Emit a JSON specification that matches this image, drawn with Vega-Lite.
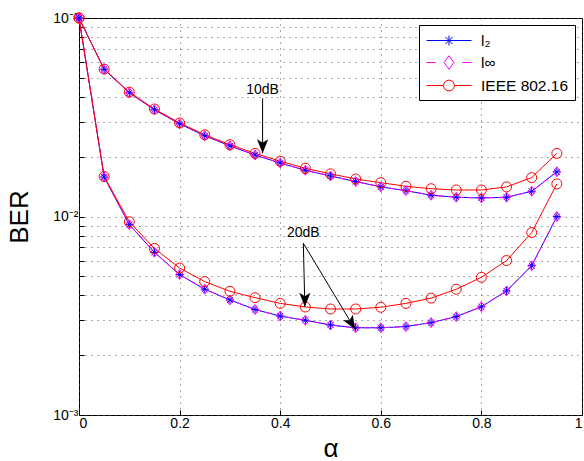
{
  "$schema": "https://vega.github.io/schema/vega-lite/v6.json",
  "width": 503,
  "height": 397,
  "autosize": {"type": "none"},
  "padding": {"left": 79, "top": 18, "right": 2, "bottom": 46},
  "config": {
    "font": "Liberation Sans",
    "view": {"stroke": "black", "strokeWidth": 1},
    "axis": {
      "labelFont": "Liberation Sans",
      "labelFontSize": 14,
      "labelColor": "black",
      "titleFont": "Liberation Sans",
      "titleColor": "black",
      "titleFontWeight": "normal",
      "grid": true,
      "gridColor": "#555",
      "gridDash": [1, 5],
      "gridWidth": 1,
      "domain": false,
      "tickColor": "black",
      "tickSize": -5
    }
  },
  "datasets": {
    "curves": [
      {"alpha": 0, "snr": "10dB", "l2": 0.1, "linf": 0.1, "ieee": 0.1},
      {"alpha": 0.05, "snr": "10dB", "l2": 0.0551, "linf": 0.0551, "ieee": 0.0553},
      {"alpha": 0.1, "snr": "10dB", "l2": 0.042, "linf": 0.042, "ieee": 0.0423},
      {"alpha": 0.15, "snr": "10dB", "l2": 0.0345, "linf": 0.0345, "ieee": 0.0348},
      {"alpha": 0.2, "snr": "10dB", "l2": 0.0293, "linf": 0.0293, "ieee": 0.0296},
      {"alpha": 0.25, "snr": "10dB", "l2": 0.0255, "linf": 0.0255, "ieee": 0.0258},
      {"alpha": 0.3, "snr": "10dB", "l2": 0.0227, "linf": 0.0227, "ieee": 0.023},
      {"alpha": 0.35, "snr": "10dB", "l2": 0.0204, "linf": 0.0204, "ieee": 0.0208},
      {"alpha": 0.4, "snr": "10dB", "l2": 0.0186, "linf": 0.0186, "ieee": 0.019},
      {"alpha": 0.45, "snr": "10dB", "l2": 0.0171, "linf": 0.0171, "ieee": 0.0175},
      {"alpha": 0.5, "snr": "10dB", "l2": 0.016, "linf": 0.016, "ieee": 0.0164},
      {"alpha": 0.55, "snr": "10dB", "l2": 0.015, "linf": 0.015, "ieee": 0.01545},
      {"alpha": 0.6, "snr": "10dB", "l2": 0.0141, "linf": 0.0141, "ieee": 0.0148},
      {"alpha": 0.65, "snr": "10dB", "l2": 0.0135, "linf": 0.0135, "ieee": 0.0142},
      {"alpha": 0.7, "snr": "10dB", "l2": 0.0128, "linf": 0.0128, "ieee": 0.0138},
      {"alpha": 0.75, "snr": "10dB", "l2": 0.0125, "linf": 0.0125, "ieee": 0.0136},
      {"alpha": 0.8, "snr": "10dB", "l2": 0.0124, "linf": 0.0124, "ieee": 0.0136},
      {"alpha": 0.85, "snr": "10dB", "l2": 0.0125, "linf": 0.0125, "ieee": 0.0141},
      {"alpha": 0.9, "snr": "10dB", "l2": 0.0134, "linf": 0.0134, "ieee": 0.0157},
      {"alpha": 0.95, "snr": "10dB", "l2": 0.0168, "linf": 0.0168, "ieee": 0.0208},
      {"alpha": 0, "snr": "20dB", "l2": 0.1, "linf": 0.1, "ieee": 0.1},
      {"alpha": 0.05, "snr": "20dB", "l2": 0.0158, "linf": 0.0158, "ieee": 0.0159},
      {"alpha": 0.1, "snr": "20dB", "l2": 0.0091, "linf": 0.0091, "ieee": 0.0094},
      {"alpha": 0.15, "snr": "20dB", "l2": 0.0066, "linf": 0.0066, "ieee": 0.0069},
      {"alpha": 0.2, "snr": "20dB", "l2": 0.0051, "linf": 0.0051, "ieee": 0.0055},
      {"alpha": 0.25, "snr": "20dB", "l2": 0.0043, "linf": 0.0043, "ieee": 0.0047},
      {"alpha": 0.3, "snr": "20dB", "l2": 0.0038, "linf": 0.0038, "ieee": 0.0042},
      {"alpha": 0.35, "snr": "20dB", "l2": 0.0034, "linf": 0.0034, "ieee": 0.0039},
      {"alpha": 0.4, "snr": "20dB", "l2": 0.00315, "linf": 0.00315, "ieee": 0.00365},
      {"alpha": 0.45, "snr": "20dB", "l2": 0.003, "linf": 0.003, "ieee": 0.0035},
      {"alpha": 0.5, "snr": "20dB", "l2": 0.00284, "linf": 0.00284, "ieee": 0.00342},
      {"alpha": 0.55, "snr": "20dB", "l2": 0.00275, "linf": 0.00275, "ieee": 0.00342},
      {"alpha": 0.6, "snr": "20dB", "l2": 0.00275, "linf": 0.00275, "ieee": 0.00349},
      {"alpha": 0.65, "snr": "20dB", "l2": 0.00279, "linf": 0.00279, "ieee": 0.00365},
      {"alpha": 0.7, "snr": "20dB", "l2": 0.00292, "linf": 0.00292, "ieee": 0.00388},
      {"alpha": 0.75, "snr": "20dB", "l2": 0.00313, "linf": 0.00313, "ieee": 0.0043},
      {"alpha": 0.8, "snr": "20dB", "l2": 0.00351, "linf": 0.00351, "ieee": 0.00494},
      {"alpha": 0.85, "snr": "20dB", "l2": 0.00422, "linf": 0.00422, "ieee": 0.006},
      {"alpha": 0.9, "snr": "20dB", "l2": 0.00565, "linf": 0.00565, "ieee": 0.0083},
      {"alpha": 0.95, "snr": "20dB", "l2": 0.01, "linf": 0.01, "ieee": 0.0146}
    ],
    "labels": [
      {"label": "10dB", "alpha": 0.365, "ber": 0.0434},
      {"label": "20dB", "alpha": 0.446, "ber": 0.00829}
    ],
    "arrows": [
      {"alpha": 0.365, "ber": 0.0394, "alpha2": 0.365, "ber2": 0.0208},
      {"alpha": 0.446, "ber": 0.00733, "alpha2": 0.449, "ber2": 0.00351},
      {"alpha": 0.446, "ber": 0.00733, "alpha2": 0.549, "ber2": 0.0027}
    ],
    "vheads": [
      {"alpha": 0.365, "ber": 0.0208},
      {"alpha": 0.449, "ber": 0.00351}
    ],
    "dheads": [
      {"alpha": 0.549, "ber": 0.0027}
    ]
  },
  "layer": [
    {
      "data": {"name": "curves"},
      "transform": [{"fold": ["l2"], "as": ["scheme", "ber"]}],
      "mark": {"type": "line", "strokeWidth": 1},
      "encoding": {
        "x": {
          "field": "alpha", "type": "quantitative",
          "scale": {"domain": [0, 1], "nice": false},
          "axis": {"values": [0, 0.2, 0.4, 0.6, 0.8, 1], "format": "~g", "title": "α", "titleFontSize": 26, "titlePadding": 5, "labelPadding": 6}
        },
        "y": {
          "field": "ber", "type": "quantitative",
          "scale": {"type": "log", "domain": [0.001, 0.1], "nice": false},
          "axis": {
            "values": [0.001, 0.002, 0.003, 0.004, 0.005, 0.006, 0.007, 0.008, 0.009, 0.01, 0.02, 0.03, 0.04, 0.05, 0.06, 0.07, 0.08, 0.09, 0.1],
            "labelExpr": "datum.value == 0.1 ? '10⁻¹' : datum.value == 0.01 ? '10⁻²' : datum.value == 0.001 ? '10⁻³' : ''",
            "title": "BER", "titleFontSize": 26, "labelPadding": 6, "titlePadding": 20
          }
        },
        "color": {
          "field": "scheme", "type": "nominal",
          "scale": {"domain": ["l2", "linf", "ieee"], "range": ["#0000ff", "#ff00ff", "#ff0000"]},
          "legend": {
            "orient": "top-right",
            "offset": 7,
            "title": null,
            "labelExpr": "datum.value == 'l2' ? 'l₂' : datum.value == 'linf' ? 'l∞' : 'IEEE 802.16'",
            "labelFontSize": 15.5,
            "labelFont": "Liberation Sans",
            "labelColor": "black",
            "strokeColor": "black",
            "fillColor": "white",
            "padding": 6,
            "symbolSize": 324,
            "symbolOffset": 14.5,
            "labelOffset": 22.5,
            "rowPadding": 4,
            "encode": {
              "symbols": {
                "update": {
                  "shape": {"signal": "datum.value == 'l2' ? 'M-2.5,0L2.5,0M-0.55,0L0.55,0M0,-0.55L0,0.55M-0.39,-0.39L0.39,0.39M-0.39,0.39L0.39,-0.39' : datum.value == 'linf' ? 'M-2.5,0L-1.5,0M0,-0.75L0.55,0L0,0.75L-0.55,0ZM1.5,0L2.5,0' : 'M-2.5,0L-0.6,0M0.6,0L2.5,0M-0.6,0A0.6,0.6 0 1,1 0.6,0A0.6,0.6 0 1,1 -0.6,0'"},
                  "fill": {"value": "transparent"},
                  "strokeWidth": {"value": 1},
                  "opacity": {"value": 1}
                }
              }
            }
          }
        },
        "detail": {"field": "snr"},
        "order": {"field": "alpha"}
      }
    },
    {
      "data": {"name": "curves"},
      "transform": [{"fold": ["linf"], "as": ["scheme", "ber"]}],
      "mark": {"type": "line", "strokeWidth": 1, "strokeDash": [6, 4]},
      "encoding": {
        "x": {"field": "alpha", "type": "quantitative"},
        "y": {"field": "ber", "type": "quantitative"},
        "color": {"field": "scheme", "type": "nominal"},
        "detail": {"field": "snr"},
        "order": {"field": "alpha"}
      }
    },
    {
      "data": {"name": "curves"},
      "transform": [{"fold": ["ieee"], "as": ["scheme", "ber"]}],
      "mark": {"type": "line", "strokeWidth": 1},
      "encoding": {
        "x": {"field": "alpha", "type": "quantitative"},
        "y": {"field": "ber", "type": "quantitative"},
        "color": {"field": "scheme", "type": "nominal"},
        "detail": {"field": "snr"},
        "order": {"field": "alpha"}
      }
    },
    {
      "data": {"name": "curves"},
      "transform": [{"fold": ["l2"], "as": ["scheme", "ber"]}],
      "mark": {"type": "point", "filled": false, "strokeWidth": 1, "size": 100, "opacity": 1, "shape": "M-0.8,0L0.8,0M0,-0.8L0,0.8M-0.57,-0.57L0.57,0.57M-0.57,0.57L0.57,-0.57"},
      "encoding": {
        "x": {"field": "alpha", "type": "quantitative"},
        "y": {"field": "ber", "type": "quantitative"},
        "color": {"field": "scheme", "type": "nominal"}
      }
    },
    {
      "data": {"name": "curves"},
      "transform": [{"fold": ["linf"], "as": ["scheme", "ber"]}],
      "mark": {"type": "point", "filled": false, "strokeWidth": 1, "size": 100, "opacity": 1, "shape": "M0,-1L0.7,0L0,1L-0.7,0Z"},
      "encoding": {
        "x": {"field": "alpha", "type": "quantitative"},
        "y": {"field": "ber", "type": "quantitative"},
        "color": {"field": "scheme", "type": "nominal"}
      }
    },
    {
      "data": {"name": "curves"},
      "transform": [{"fold": ["ieee"], "as": ["scheme", "ber"]}],
      "mark": {"type": "point", "filled": false, "strokeWidth": 1, "size": 100, "opacity": 1, "shape": "circle"},
      "encoding": {
        "x": {"field": "alpha", "type": "quantitative"},
        "y": {"field": "ber", "type": "quantitative"},
        "color": {"field": "scheme", "type": "nominal"}
      }
    },
    {
      "data": {"name": "arrows"},
      "mark": {"type": "rule", "color": "black", "strokeWidth": 1},
      "encoding": {
        "x": {"field": "alpha", "type": "quantitative"},
        "y": {"field": "ber", "type": "quantitative"},
        "x2": {"field": "alpha2"},
        "y2": {"field": "ber2"}
      }
    },
    {
      "data": {"name": "vheads"},
      "mark": {"type": "point", "shape": "M0,0L-0.4,-1L0,-0.75L0.4,-1Z", "filled": true, "color": "black", "size": 784, "opacity": 1},
      "encoding": {
        "x": {"field": "alpha", "type": "quantitative"},
        "y": {"field": "ber", "type": "quantitative"}
      }
    },
    {
      "data": {"name": "dheads"},
      "mark": {"type": "point", "shape": "M0,0L-0.4,-1L0,-0.75L0.4,-1Z", "filled": true, "color": "black", "size": 784, "opacity": 1, "angle": -31},
      "encoding": {
        "x": {"field": "alpha", "type": "quantitative"},
        "y": {"field": "ber", "type": "quantitative"}
      }
    },
    {
      "data": {"name": "labels"},
      "mark": {"type": "text", "font": "Liberation Sans", "fontSize": 14, "color": "black", "baseline": "middle", "align": "center"},
      "encoding": {
        "x": {"field": "alpha", "type": "quantitative"},
        "y": {"field": "ber", "type": "quantitative"},
        "text": {"field": "label"}
      }
    }
  ]
}
